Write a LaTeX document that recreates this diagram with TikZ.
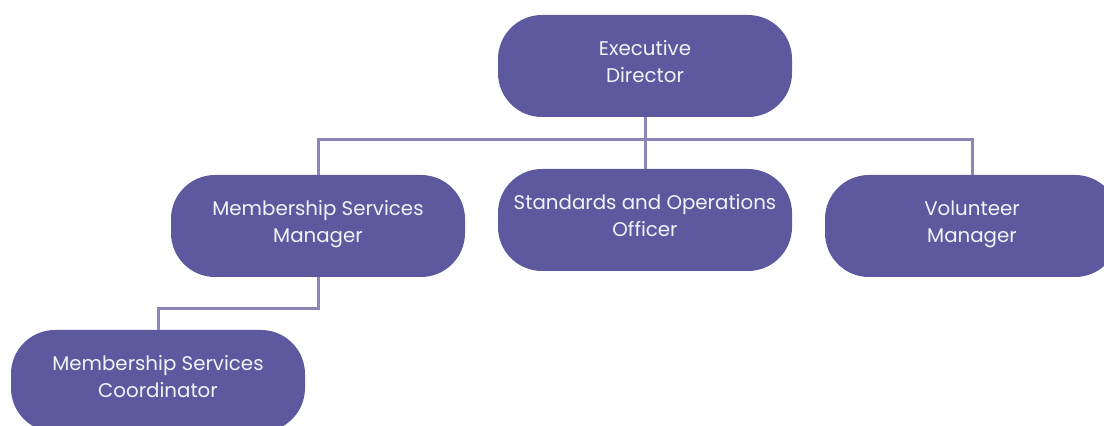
\documentclass[tikz,border=0pt]{standalone}
\usepackage{fontspec}
\setmainfont{Poppins}
\usepackage{tikz}
\usepackage{xcolor}
\definecolor{rolefill}{HTML}{5C599F}
\definecolor{rolelink}{HTML}{8A87B8}
\definecolor{roletext}{HTML}{F2F2F8}
\usetikzlibrary{positioning}

\begin{document}
\begin{tikzpicture}[x=0.5pt,y=-0.5pt]
	\tikzstyle{role}=[rectangle,rounded corners=22pt,fill=rolefill,text=roletext,
		minimum width=147pt,minimum height=51pt,inner sep=0pt,align=center,
		text height=19.5pt,text depth=3pt,
		font=\fontsize{9.9pt}{13.5pt}\selectfont]
	\tikzstyle{link}=[draw=rolelink,line width=1.5pt]
	\useasboundingbox (0,0) rectangle (1104,426);

	% Top of the chart
	\node[role] (ED) at (645,66) {Executive\\Director};
	% Second row
	\node[role] (MSM) at (318,226) {Membership Services\\Manager};
	\node[role] (SOO) at (645,220) {Standards and Operations\\Officer};
	\node[role] (VM) at (972,226) {Volunteer\\Manager};
	% Third row
	\node[role] (MSC) at (158,381) {Membership Services\\Coordinator};

	% Bus lines between the rows
	\coordinate (bus) at (0,140);
	\coordinate (subbus) at (0,309);
	\draw[link] (ED.south) -- (SOO.north);
	\draw[link] (MSM.north) |- (bus -| VM.north) -- (VM.north);
	\draw[link] (MSM.south) |- (subbus -| MSC.north) -- (MSC.north);
\end{tikzpicture}
\end{document}
